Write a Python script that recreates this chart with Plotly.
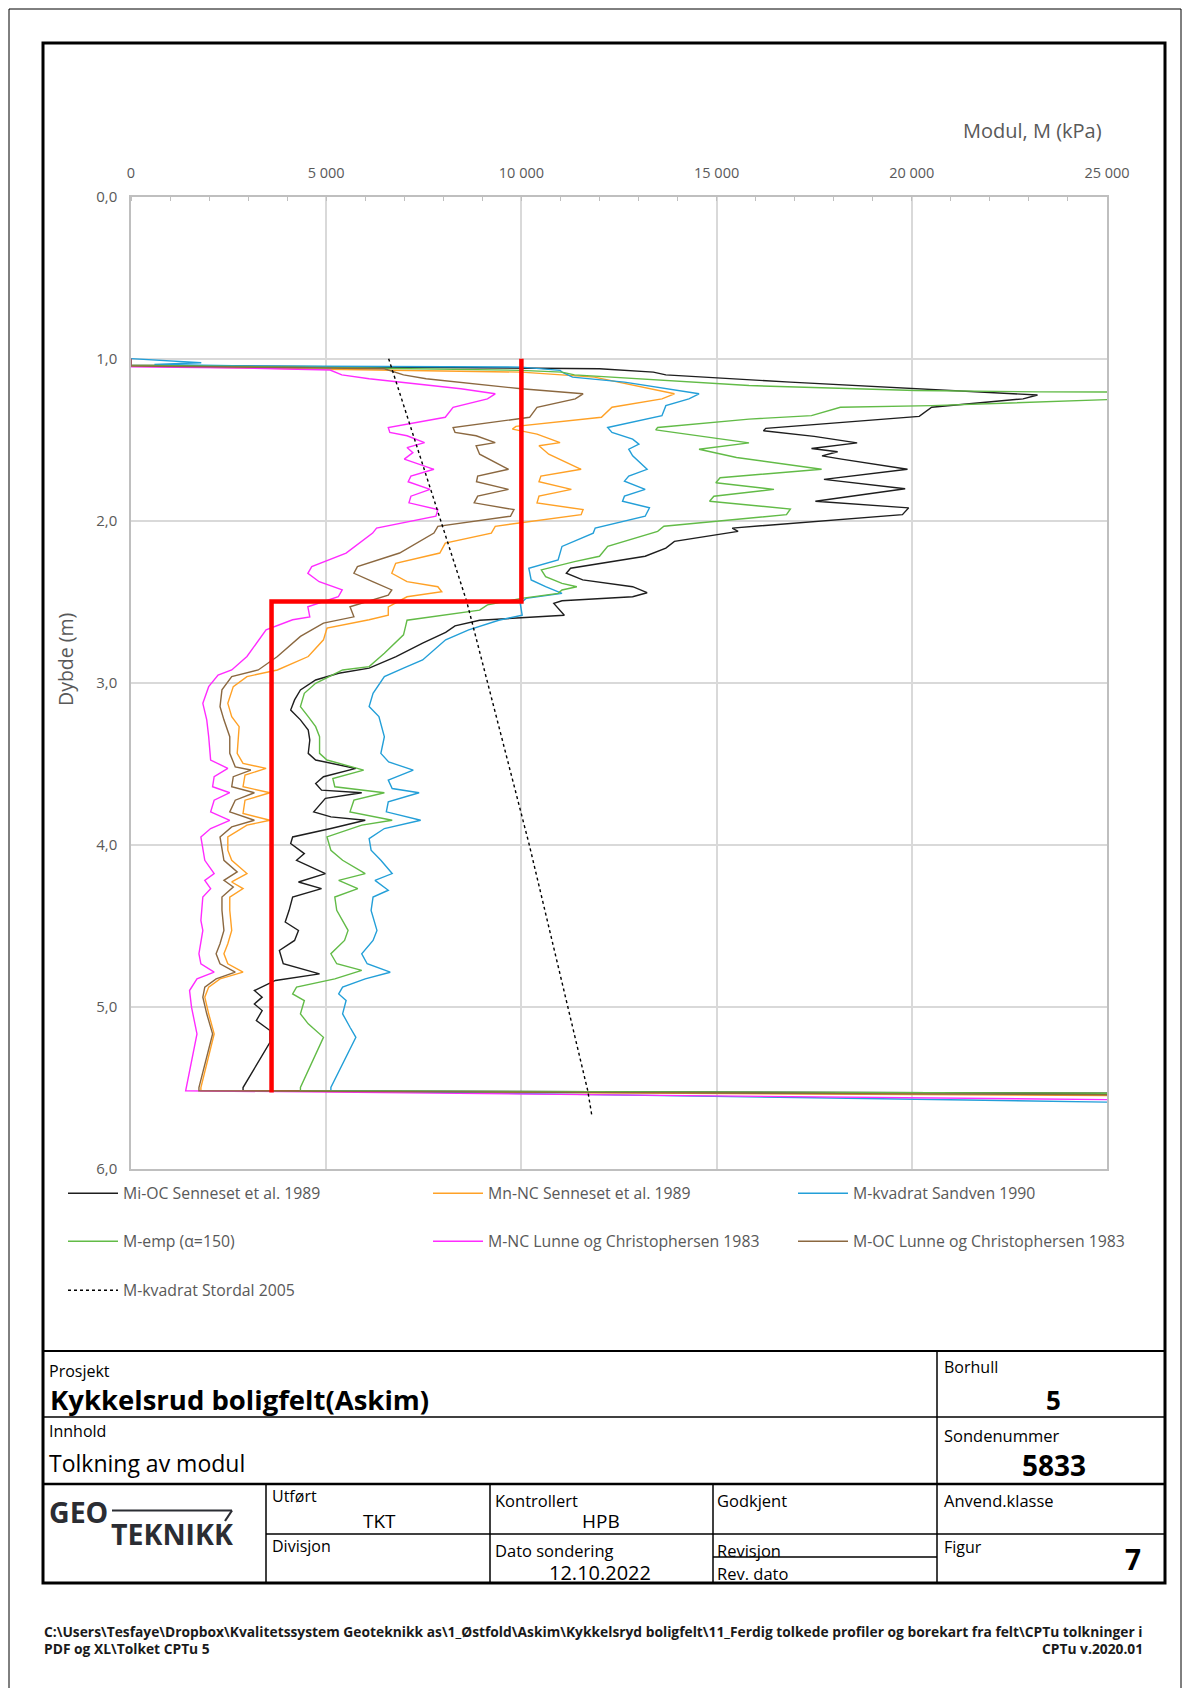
import plotly.graph_objects as go

# ---------------- data (M in kPa, depth z in m) ----------------
mi_oc = [(0,1.00),(0,1.04),(5000,1.05),(10000,1.058),(12000,1.062),(13380,1.083),(13700,1.10),(16890,1.145),(20090,1.186),(22000,1.207),(23220,1.224),(22850,1.248),(20510,1.30),(20190,1.356),(16260,1.43),(16200,1.445),(17500,1.48),(18600,1.52),(17430,1.555),(18100,1.575),(17700,1.60),(18200,1.62),(19890,1.683),(17750,1.745),(19830,1.803),(17530,1.88),(19920,1.921),(19760,1.963),(15400,2.046),(15550,2.066),(13920,2.128),(13700,2.17),(13170,2.22),(11260,2.294),(11150,2.325),(11570,2.366),(12850,2.408),(13220,2.445),(12850,2.47),(11040,2.495),(10830,2.511),(11100,2.584),(8930,2.615),(8300,2.65),(8060,2.69),(7470,2.757),(6790,2.839),(6100,2.911),(5320,2.942),(4730,2.984),(4340,3.045),(4190,3.107),(4090,3.169),(4340,3.23),(4540,3.293),(4580,3.355),(4540,3.437),(4730,3.478),(5760,3.53),(4930,3.581),(4730,3.623),(4880,3.664),(5910,3.68),(4980,3.715),(4680,3.798),(5120,3.829),(6000,3.85),(5120,3.901),(4140,3.953),(4090,3.994),(4440,4.056),(4240,4.097),(4980,4.179),(4290,4.231),(4880,4.272),(4140,4.324),(4050,4.406),(3950,4.478),(4290,4.53),(4190,4.592),(3800,4.654),(3900,4.736),(4830,4.798),(3700,4.839),(3160,4.901),(3360,4.942),(3160,4.984),(3360,5.025),(3210,5.087),(3560,5.148),(3560,5.221),(2870,5.50),(2870,5.52),(25000,5.535)]

mn_nc = [(0,1.00),(0,1.045),(5000,1.065),(7470,1.072),(10000,1.083),(11870,1.114),(13920,1.217),(13600,1.248),(12320,1.30),(12050,1.362),(9860,1.418),(9770,1.435),(10400,1.466),(10990,1.518),(10450,1.538),(10700,1.59),(11530,1.683),(10500,1.725),(10450,1.76),(11280,1.807),(10450,1.849),(10400,1.89),(11580,1.932),(11530,1.963),(9330,2.035),(9230,2.077),(8050,2.139),(7910,2.20),(6780,2.263),(6680,2.325),(7070,2.377),(7860,2.408),(7960,2.439),(7070,2.47),(6590,2.532),(6590,2.584),(6100,2.612),(5020,2.664),(4930,2.736),(4540,2.839),(3750,2.922),(2970,2.963),(2620,3.025),(2480,3.128),(2580,3.21),(2770,3.272),(2720,3.437),(2870,3.499),(3460,3.53),(2920,3.571),(2870,3.643),(3560,3.68),(2920,3.726),(2870,3.808),(3560,3.85),(2970,3.88),(2480,3.953),(2480,4.035),(2580,4.097),(2970,4.179),(2580,4.231),(2870,4.272),(2530,4.324),(2530,4.406),(2580,4.53),(2480,4.612),(2380,4.674),(2480,4.736),(2870,4.788),(2280,4.829),(1990,4.88),(1890,4.942),(1990,5.045),(2130,5.169),(1790,5.50),(1790,5.52),(25000,5.55)]

m_sandven = [(0,1.00),(1800,1.025),(600,1.035),(3000,1.045),(10000,1.052),(10990,1.072),(11040,1.083),(11310,1.114),(12640,1.145),(14550,1.217),(14290,1.248),(13700,1.29),(13600,1.352),(12210,1.425),(12320,1.455),(12850,1.497),(13010,1.528),(12750,1.559),(12850,1.60),(13220,1.683),(12750,1.725),(12640,1.756),(13170,1.807),(12640,1.849),(12590,1.88),(13280,1.921),(13170,1.973),(11890,2.046),(11840,2.077),(11040,2.159),(10940,2.242),(10190,2.294),(10250,2.366),(10620,2.408),(11040,2.449),(10120,2.48),(9970,2.511),(10020,2.584),(9420,2.615),(8650,2.674),(8060,2.736),(7470,2.86),(6980,2.911),(6490,2.963),(6200,3.066),(6100,3.148),(6350,3.21),(6490,3.334),(6400,3.437),(6600,3.49),(7230,3.54),(6590,3.602),(6690,3.654),(7380,3.68),(6590,3.736),(6540,3.798),(7420,3.85),(6490,3.901),(6100,3.963),(6150,4.035),(6400,4.097),(6690,4.179),(6250,4.221),(6590,4.282),(6200,4.324),(6150,4.406),(6300,4.53),(6200,4.592),(5910,4.674),(6050,4.736),(6640,4.788),(6000,4.829),(5420,4.88),(5320,4.922),(5510,4.963),(5420,5.045),(5610,5.128),(5760,5.19),(5120,5.50),(5120,5.52),(25000,5.59)]

m_emp = [(0,1.00),(0,1.04),(5000,1.055),(10000,1.072),(11040,1.083),(11360,1.10),(15830,1.166),(20090,1.197),(23280,1.205),(40000,1.215),(40000,1.25),(25000,1.253),(20510,1.29),(18170,1.30),(17430,1.352),(15830,1.373),(13490,1.425),(13440,1.44),(15830,1.52),(14550,1.559),(15510,1.61),(17690,1.683),(15090,1.735),(14980,1.766),(16470,1.807),(14930,1.849),(14820,1.88),(16890,1.928),(16790,1.963),(13650,2.035),(13490,2.066),(12210,2.159),(12000,2.22),(11360,2.253),(10510,2.304),(10620,2.346),(11040,2.387),(11420,2.408),(11040,2.428),(10940,2.449),(10000,2.48),(9130,2.52),(8930,2.553),(7070,2.615),(7030,2.656),(6980,2.705),(6490,2.819),(6100,2.901),(5420,2.922),(4730,3.004),(4440,3.066),(4340,3.148),(4540,3.21),(4730,3.272),(4830,3.334),(4830,3.437),(5020,3.478),(5960,3.54),(5170,3.592),(5220,3.643),(6490,3.68),(5710,3.726),(5610,3.798),(6690,3.85),(5910,3.88),(5020,3.953),(5120,4.035),(5420,4.097),(6000,4.179),(5320,4.221),(5810,4.272),(5220,4.324),(5270,4.406),(5560,4.53),(5470,4.592),(5120,4.674),(5270,4.736),(5910,4.777),(5220,4.829),(4240,4.88),(4140,4.922),(4440,4.963),(4340,5.045),(4540,5.107),(4930,5.19),(4340,5.50),(4340,5.52),(25000,5.535)]

m_nc_lunne = [(0,1.00),(0,1.05),(2900,1.058),(5100,1.07),(5400,1.10),(6100,1.124),(8450,1.186),(9330,1.217),(9130,1.248),(8250,1.30),(8050,1.362),(6590,1.425),(6630,1.455),(7070,1.476),(7520,1.518),(7070,1.549),(7220,1.58),(7000,1.62),(7760,1.683),(7170,1.725),(7100,1.76),(7660,1.807),(7170,1.849),(7120,1.89),(7860,1.932),(7810,1.973),(6290,2.046),(6190,2.077),(5510,2.20),(4630,2.284),(4530,2.325),(4820,2.377),(5410,2.428),(5310,2.47),(4530,2.532),(4580,2.594),(4140,2.612),(3460,2.674),(2970,2.839),(2580,2.922),(2230,2.953),(1990,3.025),(1840,3.128),(1940,3.23),(1990,3.334),(2040,3.478),(2480,3.53),(2130,3.581),(2090,3.643),(2530,3.68),(2130,3.726),(2040,3.798),(2530,3.85),(2040,3.901),(1790,3.953),(1840,4.035),(1890,4.097),(2130,4.179),(1890,4.221),(2040,4.272),(1840,4.324),(1790,4.468),(1840,4.53),(1740,4.674),(1790,4.736),(2130,4.788),(1690,4.829),(1500,4.901),(1550,5.004),(1690,5.169),(1400,5.50),(1400,5.52),(25000,5.575)]

m_oc_lunne = [(0,1.00),(0,1.045),(4000,1.055),(6490,1.062),(6980,1.10),(7560,1.124),(10000,1.186),(11580,1.217),(11380,1.248),(10400,1.30),(10210,1.362),(8250,1.425),(8300,1.455),(8840,1.476),(9330,1.518),(8840,1.538),(8930,1.59),(9670,1.683),(8880,1.725),(8850,1.76),(9670,1.807),(8880,1.849),(8790,1.89),(9810,1.932),(9720,1.973),(7860,2.035),(7760,2.077),(6880,2.20),(5800,2.284),(5710,2.325),(6190,2.377),(6680,2.428),(6590,2.46),(5610,2.532),(5710,2.594),(4930,2.633),(4340,2.715),(3750,2.839),(3260,2.922),(2580,2.963),(2330,3.045),(2280,3.148),(2380,3.23),(2530,3.334),(2530,3.437),(2670,3.52),(3070,3.54),(2620,3.581),(2580,3.643),(3160,3.68),(2670,3.726),(2530,3.798),(3160,3.85),(2580,3.891),(2280,3.953),(2330,4.035),(2380,4.097),(2720,4.169),(2380,4.221),(2620,4.262),(2330,4.324),(2330,4.406),(2380,4.53),(2280,4.612),(2180,4.674),(2280,4.736),(2670,4.788),(2180,4.829),(1890,4.88),(1840,4.942),(1940,5.045),(2090,5.169),(1740,5.50),(1740,5.52),(25000,5.545)]

stordal = [(6600,1.0),(7850,1.93),(8600,2.5),(10200,4.0),(11700,5.52),(11800,5.667)]

red_M = [10000, 10000, 3600, 3600]
red_z = [1.0, 2.5, 2.5, 5.53]

M_ticks = [0, 5000, 10000, 15000, 20000, 25000]
M_ticklabels = ["0", "5 000", "10 000", "15 000", "20 000", "25 000"]
z_ticks = [0, 1, 2, 3, 4, 5, 6]
z_ticklabels = ["0,0", "1,0", "2,0", "3,0", "4,0", "5,0", "6,0"]

series = [
    ("Mi-OC Senneset et al. 1989", mi_oc, "#1e1e1e", "solid", "legend"),
    ("Mn-NC Senneset et al. 1989", mn_nc, "#ffa126", "solid", "legend"),
    ("M-kvadrat Sandven 1990", m_sandven, "#239fd8", "solid", "legend"),
    ("M-emp (α=150)", m_emp, "#62bb47", "solid", "legend2"),
    ("M-NC Lunne og Christophersen 1983", m_nc_lunne, "#ff2bff", "solid", "legend2"),
    ("M-OC Lunne og Christophersen 1983", m_oc_lunne, "#8b6840", "solid", "legend2"),
    ("M-kvadrat Stordal 2005", stordal, "#000000", "3px,3px", "legend3"),
]

W, H = 1192, 1688
def px(x):
    return x / W
def py(y):
    return 1 - y / H

fig = go.Figure()
for name, pts, col, dash, leg in series:
    fig.add_trace(go.Scatter(
        x=[p[0] for p in pts], y=[p[1] for p in pts], mode="lines", name=name,
        line=dict(color=col, width=1.4, dash=dash), legend=leg, hoverinfo="skip"))
fig.add_trace(go.Scatter(x=red_M, y=red_z, mode="lines", showlegend=False,
                         line=dict(color="#ff0000", width=4.5), hoverinfo="skip"))

GRID = "#d9d9d9"
fig.update_xaxes(range=[0, 25000], side="top", domain=[px(131), px(1107)],
                 tickmode="array", tickvals=M_ticks, ticktext=M_ticklabels,
                 showgrid=True, gridcolor=GRID, gridwidth=1.5,
                 showline=True, linecolor="#bfbfbf", linewidth=1.5, mirror=True,
                 ticks="", zeroline=False, automargin=False,
                 minor=dict(tickmode="linear", tick0=0, dtick=1000, ticks="inside",
                            ticklen=5, tickcolor="#bfbfbf", tickwidth=1, showgrid=False),
                 tickfont=dict(size=14.5, color="#595959"), ticklabelstandoff=11)
fig.update_yaxes(range=[6, 0], domain=[py(1168.5), py(196.7)],
                 tickmode="array", tickvals=z_ticks, ticktext=z_ticklabels,
                 showgrid=True, gridcolor=GRID, gridwidth=1.5,
                 showline=True, linecolor="#bfbfbf", linewidth=1.5, mirror=True,
                 ticks="", zeroline=False, automargin=False,
                 tickfont=dict(size=15, color="#595959"), ticklabelstandoff=9)

leg_common = dict(orientation="h", xanchor="left", yanchor="middle",
                  entrywidth=300, entrywidthmode="pixels", itemwidth=50,
                  font=dict(size=15.8, color="#595959", family="Open Sans"),
                  bgcolor="rgba(0,0,0,0)", borderwidth=0, itemclick=False,
                  itemdoubleclick=False)
fig.update_layout(
    template="none",
    width=W, height=H, autosize=False, margin=dict(l=0, r=0, t=0, b=0, pad=0, autoexpand=False),
    paper_bgcolor="white", plot_bgcolor="white", showlegend=True,
    font=dict(family="Open Sans, sans-serif", color="#595959"),
    legend=dict(x=px(63), y=py(1193.5), **leg_common),
    legend2=dict(x=px(63), y=py(1241.5), **leg_common),
    legend3=dict(x=px(63), y=py(1290.5), **leg_common),
)

# ---------------- frame & title block ----------------
shapes = []
def line(x0, y0, x1, y1, w=1.5, c="#000000"):
    shapes.append(dict(type="line", xref="paper", yref="paper",
                       x0=px(x0), y0=py(y0), x1=px(x1), y1=py(y1),
                       line=dict(color=c, width=w)))
shapes.append(dict(type="rect", xref="paper", yref="paper", x0=px(9), y0=py(1720),
                   x1=px(1181), y1=py(9), line=dict(color="#000000", width=1)))
shapes.append(dict(type="rect", xref="paper", yref="paper", x0=px(43), y0=py(1583),
                   x1=px(1165), y1=py(43), line=dict(color="#000000", width=3)))
line(43, 1351, 1165, 1351, 2)
line(43, 1417, 1165, 1417, 1.5)
line(43, 1484, 1165, 1484, 2.5)
line(266, 1534, 1165, 1534, 1.5)
line(713, 1557, 937, 1557, 1.5)
line(937, 1351, 937, 1583, 1.5)
line(266, 1484, 266, 1583, 1.5)
line(490, 1484, 490, 1583, 1.5)
line(713, 1484, 713, 1583, 1.5)
# logo bar
line(112, 1510.5, 232, 1510.5, 2.2, "#2b2d33")
line(232, 1510.5, 225, 1521, 2.2, "#2b2d33")
fig.update_layout(shapes=shapes)

ann = []
def text(t, x, y, size, bold=False, anchor="left", color="#000000", family="Open Sans", angle=0):
    ann.append(dict(text=("<b>%s</b>" % t) if bold else t, x=px(x), y=py(y),
                    xref="paper", yref="paper", xanchor=anchor, yanchor="middle",
                    showarrow=False, textangle=angle,
                    font=dict(size=size, color=color, family=family)))

# chart titles
text("Modul, M (kPa)", 1104, 131, 20, anchor="right", color="#595959")
text("Dybde (m)", 65, 660, 19.5, anchor="center", color="#595959", angle=-90)

# title block texts
text("Prosjekt", 47, 1371, 16)
text("Kykkelsrud boligfelt(Askim)", 48, 1399, 27.5, bold=True)
text("Innhold", 47, 1431, 16)
text("Tolkning av modul", 47, 1463, 23)
text("Borhull", 942, 1367, 16)
text("5", 1053, 1400, 26, bold=True, anchor="center")
text("Sondenummer", 942, 1435, 16.5)
text("5833", 1054, 1465, 28, bold=True, anchor="center")
text("Utført", 270, 1496, 16)
text("TKT", 379, 1521, 19, anchor="center")
text("Kontrollert", 493, 1500, 16.5)
text("HPB", 601, 1521, 19, anchor="center")
text("Godkjent", 715, 1500, 16.5)
text("Anvend.klasse", 942, 1500, 16.5)
text("Divisjon", 270, 1546, 16)
text("Dato sondering", 493, 1550, 16.5)
text("12.10.2022", 600, 1572, 20, anchor="center")
text("Revisjon", 715, 1550, 16.5)
text("Rev. dato", 715, 1573, 16.5)
text("Figur", 942, 1547, 16)
text("7", 1133, 1559, 28, bold=True, anchor="center")
# logo
text("GEO", 110, 1512, 28.5, bold=True, anchor="right", color="#2b2d33")
text("TEKNIKK", 109, 1534, 28.5, bold=True, anchor="left", color="#2b2d33")

# footer
text(r"C:\Users\Tesfaye\Dropbox\Kvalitetssystem Geoteknikk as\1_Østfold\Askim\Kykkelsryd boligfelt\11_Ferdig tolkede profiler og borekart fra felt\CPTu tolkninger i",
     42, 1631, 13.8, bold=True, color="#1a1a1a")
text(r"PDF og XL\Tolket CPTu 5", 42, 1648, 13.8, bold=True, color="#1a1a1a")
text("CPTu v.2020.01", 1145, 1648, 13.8, bold=True, anchor="right", color="#1a1a1a")

fig.update_layout(annotations=ann)

fig.write_html("out.html", config={"displayModeBar": False, "responsive": False})
